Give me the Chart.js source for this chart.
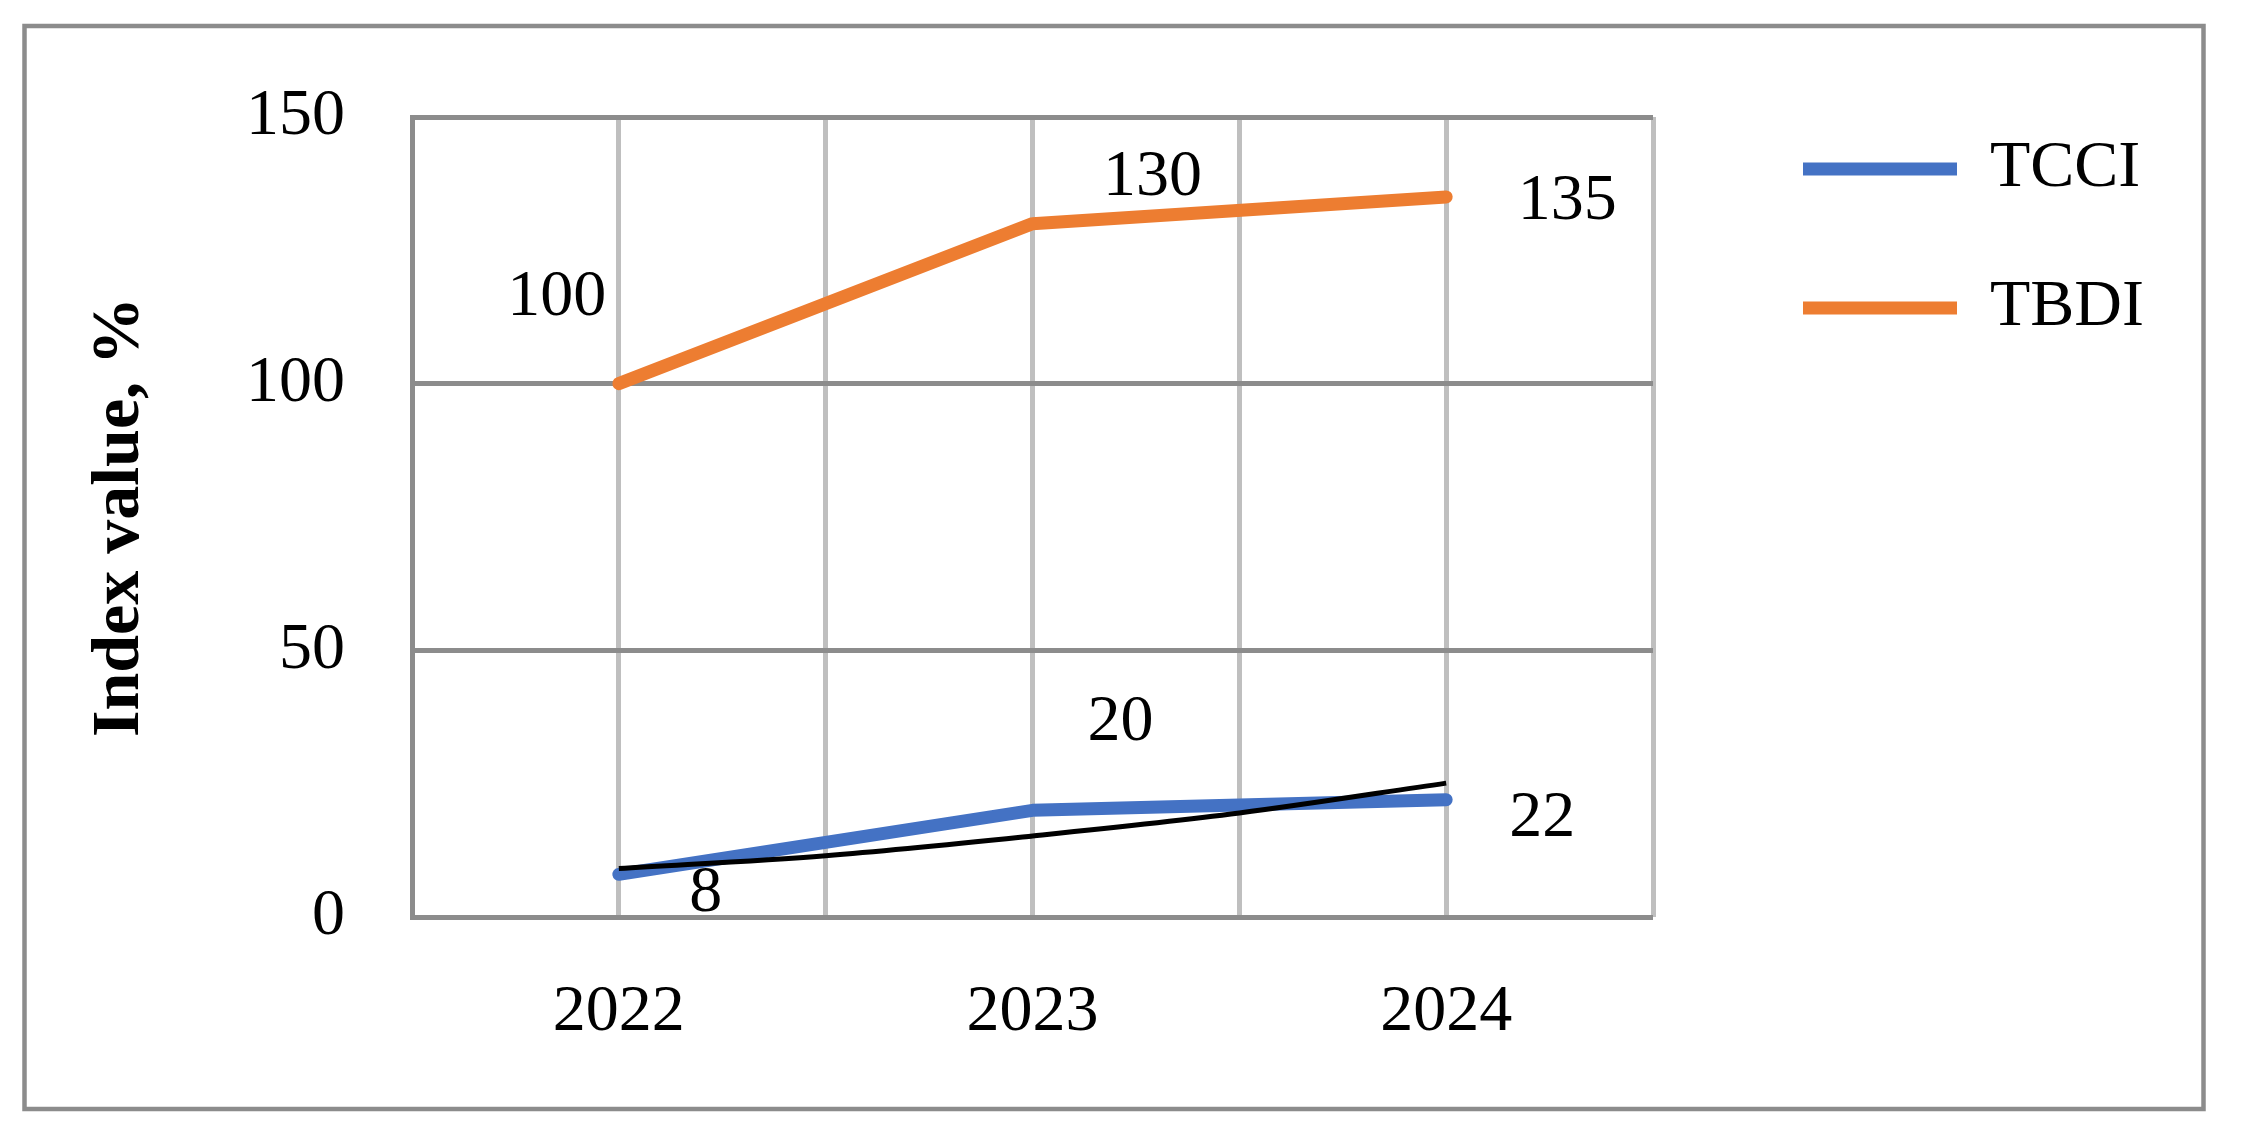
<!DOCTYPE html>
<html>
<head>
<meta charset="utf-8">
<script src="https://cdn.jsdelivr.net/npm/chart.js@4.4.1/dist/chart.umd.min.js"></script>
<style>
  html, body { margin: 0; padding: 0; background: #ffffff; }
  #wrap { width: 2244px; height: 1147px; }
</style>
</head>
<body>
<div id="wrap"><canvas id="c" width="2244" height="1147"></canvas></div>
<script>
// ---- Data ----
const years = [2022, 2023, 2024];
const tcciValues = [8, 20, 22];
const tbdiValues = [100, 130, 135];
const trendYears = [2022, 2022.5, 2023, 2023.5, 2024];
const trendValues = [9.1, 11.5, 15.2, 19.5, 25.1];
const seriesNames = ['TCCI', 'TBDI'];
const trendName = 'Expon. (TCCI)';
const yTicks = [0, 50, 100, 150];
const xTickLabels = ['2022', '2023', '2024'];
const yAxisTitle = 'Index value, %';

const FONT = '"Liberation Serif", "Times New Roman", serif';
const toXY = (xs, ys) => xs.map((x, i) => ({ x: x, y: ys[i] }));

const frame = {
  id: 'frame',
  beforeDraw(chart, args, opts) {
    const ctx = chart.ctx;
    ctx.save();
    ctx.fillStyle = '#ffffff';
    ctx.fillRect(0, 0, chart.width, chart.height);
    ctx.strokeStyle = opts.color;
    ctx.lineWidth = opts.lineWidth;
    ctx.strokeRect(opts.left, opts.top, chart.width - opts.left - opts.right, chart.height - opts.top - opts.bottom);
    ctx.restore();
  }
};

const valueLabels = {
  id: 'valueLabels',
  afterDatasetsDraw(chart, args, opts) {
    const ctx = chart.ctx;
    ctx.save();
    ctx.font = opts.font;
    ctx.fillStyle = opts.color;
    ctx.textAlign = 'center';
    ctx.textBaseline = 'middle';
    chart.data.datasets.forEach((ds, di) => {
      const offs = opts.offsets[ds.label];
      if (!offs) return;
      const meta = chart.getDatasetMeta(di);
      meta.data.forEach((pt, i) => {
        const v = ds.data[i].y;
        ctx.fillText(String(v), pt.x + offs[i][0], pt.y + offs[i][1]);
      });
    });
    ctx.restore();
  }
};

new Chart(document.getElementById('c'), {
  type: 'line',
  data: {
    datasets: [
      {
        label: seriesNames[0],
        data: toXY(years, tcciValues),
        borderColor: '#4472C4',
        backgroundColor: '#4472C4',
        borderWidth: 13,
        borderCapStyle: 'round',
        borderJoinStyle: 'round',
        pointRadius: 0,
        tension: 0,
        order: 1
      },
      {
        label: seriesNames[1],
        data: toXY(years, tbdiValues),
        borderColor: '#ED7D31',
        backgroundColor: '#ED7D31',
        borderWidth: 13,
        borderCapStyle: 'round',
        borderJoinStyle: 'round',
        pointRadius: 0,
        tension: 0,
        order: 2
      },
      {
        label: trendName,
        data: toXY(trendYears, trendValues),
        borderColor: '#000000',
        backgroundColor: '#000000',
        borderWidth: 5,
        pointRadius: 0,
        cubicInterpolationMode: 'monotone',
        order: 0
      }
    ]
  },
  options: {
    responsive: false,
    animation: false,
    events: [],
    layout: { padding: { left: 30, top: 63, right: 94, bottom: 90 } },
    scales: {
      x: {
        type: 'linear',
        min: 2021.5,
        max: 2024.5,
        afterBuildTicks(scale) {
          const t = [];
          for (let v = 2021.5; v <= 2024.5 + 1e-9; v += 0.5) t.push({ value: v });
          scale.ticks = t;
        },
        afterFit(scale) { scale.height = 140; },
        grid: { color: '#BFBFBF', lineWidth: 5, drawTicks: false },
        border: { display: false },
        ticks: {
          autoSkip: false,
          maxRotation: 0,
          padding: 56,
          color: '#000000',
          font: { family: FONT, size: 66 },
          callback(v) {
            const idx = years.indexOf(v);
            return idx >= 0 ? xTickLabels[idx] : '';
          }
        }
      },
      y: {
        min: 0,
        max: 150,
        afterBuildTicks(scale) { scale.ticks = yTicks.map(v => ({ value: v })); },
        afterFit(scale) { scale.width = 382; },
        grid: { color: '#8C8C8C', lineWidth: 5, drawTicks: false },
        border: { display: true, color: '#8C8C8C', width: 5 },
        ticks: {
          padding: 67,
          color: '#000000',
          font: { family: FONT, size: 66 }
        },
        title: {
          display: true,
          text: yAxisTitle,
          color: '#000000',
          padding: { top: 50, bottom: 0 },
          font: { family: FONT, size: 68, weight: 'bold' }
        }
      },
      yPad: {
        type: 'linear',
        position: 'right',
        display: true,
        grid: { display: false },
        border: { display: false },
        ticks: { display: false },
        afterFit(scale) { scale.width = 77; }
      }
    },
    plugins: {
      title: {
        display: true,
        text: '',
        fullSize: false,
        padding: { top: 0, bottom: 42 },
        font: { size: 10 }
      },
      legend: {
        position: 'right',
        align: 'start',
        maxWidth: 420,
        labels: {
          usePointStyle: true,
          pointStyle: 'line',
          pointStyleWidth: 154,
          padding: 73,
          color: '#000000',
          font: { family: FONT, size: 66 },
          filter: (item) => seriesNames.includes(item.text)
        }
      },
      tooltip: { enabled: false },
      frame: { color: '#8C8C8C', lineWidth: 4.5, left: 24.5, top: 26, right: 40.5, bottom: 38 },
      valueLabels: {
        font: '66px ' + FONT,
        color: '#000000',
        offsets: {
          'TCCI': [[87, 19], [88, -88], [96, 19]],
          'TBDI': [[-62, -86], [120, -46], [121, 5]]
        }
      }
    }
  },
  plugins: [frame, valueLabels]
});
</script>
</body>
</html>
